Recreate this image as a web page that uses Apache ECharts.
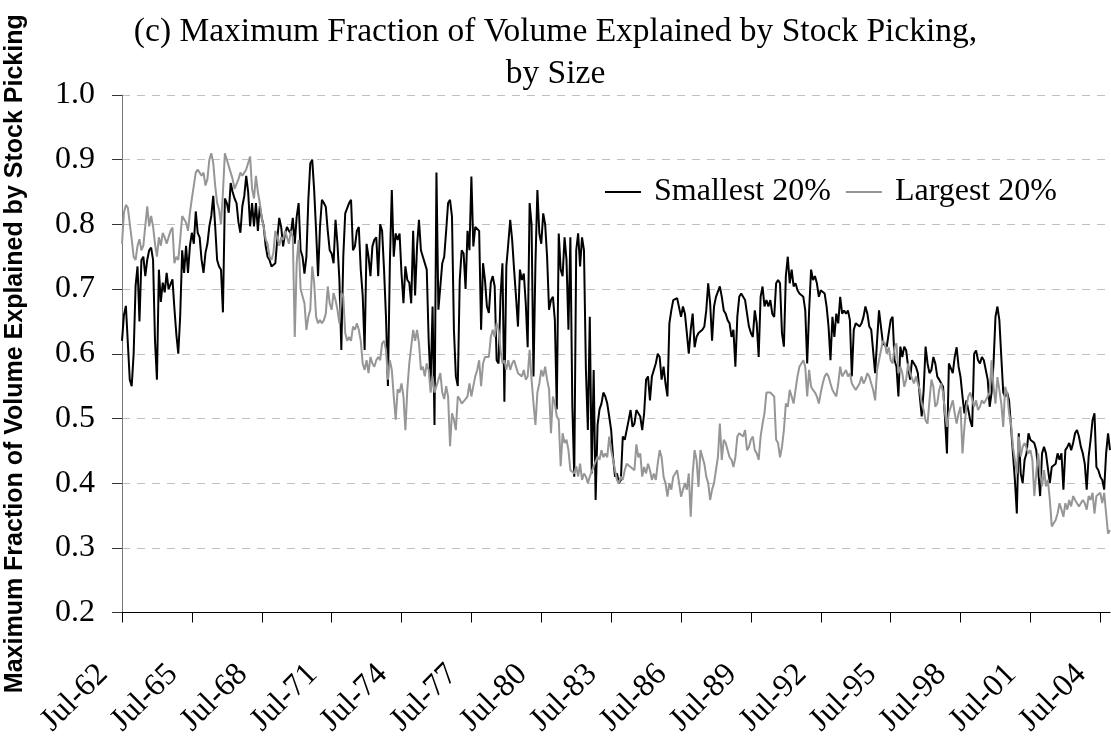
<!DOCTYPE html>
<html>
<head>
<meta charset="UTF-8">
<title>Stock Picking by Size</title>
<style>
html, body { margin: 0; padding: 0; background: #fff; }
#main { width: 1111px; height: 740px; }
</style>
</head>
<body>
<div id="main"></div>
<script src="https://cdn.jsdelivr.net/npm/echarts@6/dist/echarts.min.js"></script>
<script>
// months run from Jul-62, one value per month
var monthNames = ['Jan', 'Feb', 'Mar', 'Apr', 'May', 'Jun', 'Jul', 'Aug', 'Sep', 'Oct', 'Nov', 'Dec'];
var startYear = 1962;
var startMonth = 6;
var seriesNames = ['Smallest 20%', 'Largest 20%'];

var smallest = [
  0.62, 0.66, 0.674, 0.674, 0.56, 0.55, 0.60, 0.705, 0.735, 0.65,
  0.745, 0.75, 0.72, 0.745, 0.76, 0.764, 0.745, 0.62, 0.56, 0.73,
  0.68, 0.71, 0.695, 0.725, 0.70, 0.70, 0.715, 0.67, 0.63, 0.60,
  0.66, 0.76, 0.725, 0.767, 0.725, 0.767, 0.787, 0.77, 0.82, 0.787,
  0.78, 0.745, 0.725, 0.756, 0.77, 0.797, 0.813, 0.844, 0.797, 0.745,
  0.735, 0.73, 0.664, 0.84, 0.833, 0.818, 0.864, 0.85, 0.84, 0.833,
  0.803, 0.787, 0.828, 0.844, 0.875, 0.85, 0.797, 0.833, 0.797, 0.833,
  0.79, 0.828, 0.81, 0.797, 0.767, 0.75, 0.745, 0.735, 0.733, 0.74,
  0.777, 0.81, 0.796, 0.766, 0.786, 0.796, 0.79, 0.786, 0.81, 0.77,
  0.812, 0.833, 0.76, 0.75, 0.724, 0.75, 0.838, 0.894, 0.9, 0.853,
  0.79, 0.72, 0.796, 0.838, 0.833, 0.827, 0.79, 0.76, 0.755, 0.74,
  0.807, 0.77, 0.714, 0.606, 0.75, 0.817, 0.817, 0.833, 0.838, 0.76,
  0.766, 0.79, 0.796, 0.73, 0.69, 0.606, 0.77, 0.75, 0.72, 0.766,
  0.776, 0.78, 0.72, 0.80, 0.79, 0.73, 0.657, 0.55, 0.74, 0.853,
  0.75, 0.786, 0.776, 0.786, 0.724, 0.678, 0.735, 0.714, 0.71, 0.678,
  0.79, 0.69, 0.766, 0.807, 0.76, 0.75, 0.75, 0.73, 0.62, 0.554,
  0.673, 0.49, 0.88, 0.668, 0.668, 0.74, 0.75, 0.79, 0.833, 0.838,
  0.812, 0.637, 0.565, 0.55, 0.714, 0.76, 0.755, 0.70, 0.79, 0.76,
  0.874, 0.766, 0.796, 0.796, 0.79, 0.637, 0.74, 0.714, 0.673, 0.663,
  0.71, 0.72, 0.704, 0.59, 0.585, 0.688, 0.74, 0.526, 0.735, 0.77,
  0.807, 0.776, 0.73, 0.688, 0.642, 0.73, 0.714, 0.724, 0.678, 0.61,
  0.833, 0.80, 0.565, 0.74, 0.853, 0.786, 0.77, 0.817, 0.80, 0.75,
  0.668, 0.683, 0.688, 0.652, 0.514, 0.786, 0.73, 0.72, 0.78, 0.745,
  0.637, 0.78, 0.52, 0.41, 0.76, 0.786, 0.735, 0.78, 0.76, 0.575,
  0.482, 0.657, 0.415, 0.575, 0.374, 0.49, 0.514, 0.523, 0.54, 0.534,
  0.523, 0.503, 0.482, 0.44, 0.41, 0.415, 0.40, 0.405, 0.472, 0.467,
  0.482, 0.497, 0.513, 0.487, 0.492, 0.513, 0.508, 0.503, 0.482, 0.508,
  0.56, 0.565, 0.528, 0.565, 0.575, 0.585, 0.60, 0.595, 0.56, 0.58,
  0.554, 0.534, 0.647, 0.667, 0.683, 0.683, 0.686, 0.683, 0.657, 0.673,
  0.662, 0.632, 0.60, 0.637, 0.662, 0.61, 0.626, 0.632, 0.632, 0.637,
  0.642, 0.667, 0.709, 0.678, 0.62, 0.673, 0.688, 0.688, 0.704, 0.688,
  0.667, 0.662, 0.652, 0.647, 0.626, 0.637, 0.58, 0.657, 0.688, 0.693,
  0.693, 0.683, 0.662, 0.642, 0.632, 0.626, 0.667, 0.647, 0.595, 0.688,
  0.704, 0.673, 0.683, 0.673, 0.683, 0.662, 0.657, 0.709, 0.714, 0.709,
  0.632, 0.611, 0.72, 0.75, 0.709, 0.73, 0.704, 0.709, 0.698, 0.693,
  0.693, 0.688, 0.667, 0.585, 0.667, 0.73, 0.714, 0.72, 0.709, 0.688,
  0.698, 0.698, 0.693, 0.673, 0.642, 0.59, 0.657, 0.626, 0.662, 0.647,
  0.688, 0.662, 0.667, 0.662, 0.667, 0.652, 0.565, 0.637, 0.647, 0.647,
  0.642, 0.647, 0.657, 0.673, 0.662, 0.642, 0.637, 0.637, 0.57, 0.62,
  0.667, 0.642, 0.616, 0.616, 0.611, 0.632, 0.652, 0.657, 0.59, 0.58,
  0.534, 0.611, 0.595, 0.611, 0.605, 0.58, 0.56, 0.59, 0.585, 0.58,
  0.57, 0.534, 0.503, 0.544, 0.611, 0.585, 0.57, 0.575, 0.595, 0.585,
  0.565, 0.56, 0.56, 0.549, 0.50, 0.446, 0.585, 0.585, 0.57, 0.595,
  0.61, 0.58, 0.564, 0.534, 0.508, 0.528, 0.513, 0.497, 0.487, 0.60,
  0.605, 0.59, 0.585, 0.595, 0.59, 0.59, 0.56, 0.518, 0.54, 0.585,
  0.657, 0.673, 0.652, 0.595, 0.54, 0.534, 0.54, 0.528, 0.487, 0.446,
  0.405, 0.353, 0.477, 0.415, 0.40, 0.436, 0.446, 0.477, 0.467, 0.467,
  0.462, 0.451, 0.42, 0.38, 0.446, 0.456, 0.446, 0.446, 0.40, 0.425,
  0.425, 0.43, 0.446, 0.436, 0.446, 0.39, 0.451, 0.456, 0.462, 0.451,
  0.462, 0.477, 0.482, 0.472, 0.456, 0.446, 0.43, 0.39, 0.441, 0.467,
  0.497, 0.508, 0.425, 0.42, 0.41, 0.405, 0.39, 0.446, 0.477, 0.451
];

var largest = [
  0.77, 0.818, 0.83, 0.826, 0.823, 0.777, 0.75, 0.745, 0.767, 0.777,
  0.76, 0.767, 0.77, 0.828, 0.797, 0.813, 0.797, 0.77, 0.75, 0.78,
  0.767, 0.787, 0.78, 0.77, 0.767, 0.79, 0.795, 0.74, 0.75, 0.745,
  0.777, 0.813, 0.81, 0.803, 0.79, 0.818, 0.84, 0.86, 0.88, 0.885,
  0.88, 0.875, 0.88, 0.86, 0.87, 0.90, 0.91, 0.895, 0.86, 0.833,
  0.823, 0.80, 0.85, 0.91, 0.90, 0.89, 0.88, 0.87, 0.855, 0.855,
  0.87, 0.88, 0.875, 0.88, 0.885, 0.895, 0.905, 0.855, 0.84, 0.875,
  0.85, 0.833, 0.81, 0.797, 0.777, 0.77, 0.75, 0.745, 0.756, 0.79,
  0.78, 0.767, 0.78, 0.776, 0.79, 0.78, 0.77, 0.79, 0.78, 0.626,
  0.74, 0.776, 0.70, 0.70, 0.678, 0.637, 0.657, 0.668, 0.735, 0.71,
  0.657, 0.647, 0.652, 0.647, 0.652, 0.662, 0.704, 0.678, 0.668, 0.694,
  0.683, 0.668, 0.647, 0.694, 0.688, 0.632, 0.62, 0.626, 0.62, 0.642,
  0.637, 0.647, 0.637, 0.62, 0.585, 0.575, 0.59, 0.57, 0.595, 0.585,
  0.58, 0.59, 0.595, 0.59, 0.616, 0.62, 0.606, 0.56, 0.59, 0.575,
  0.534, 0.498, 0.545, 0.54, 0.554, 0.534, 0.482, 0.545, 0.585, 0.611,
  0.637, 0.62, 0.637, 0.616, 0.575, 0.58, 0.565, 0.585, 0.575, 0.54,
  0.565, 0.54, 0.55, 0.55, 0.57, 0.54, 0.53, 0.55, 0.534, 0.457,
  0.508, 0.498, 0.482, 0.534, 0.53, 0.523, 0.52, 0.53, 0.534, 0.554,
  0.534, 0.55, 0.565, 0.575, 0.59, 0.55, 0.585, 0.595, 0.595, 0.595,
  0.626, 0.637, 0.626, 0.647, 0.637, 0.606, 0.585, 0.59, 0.575, 0.59,
  0.575, 0.585, 0.59, 0.58, 0.57, 0.57, 0.565, 0.575, 0.56, 0.565,
  0.606, 0.56, 0.523, 0.49, 0.54, 0.554, 0.575, 0.565, 0.58, 0.56,
  0.545, 0.477, 0.534, 0.523, 0.503, 0.498, 0.426, 0.477, 0.462, 0.467,
  0.451, 0.42, 0.42, 0.415, 0.426, 0.41, 0.43, 0.405, 0.415, 0.41,
  0.40, 0.41, 0.41, 0.426, 0.426, 0.441, 0.436, 0.451, 0.44, 0.446,
  0.44, 0.472, 0.451, 0.436, 0.42, 0.405, 0.40, 0.41, 0.405, 0.42,
  0.43, 0.43, 0.425, 0.425, 0.42, 0.46, 0.44, 0.446, 0.41, 0.425,
  0.415, 0.43, 0.42, 0.405, 0.415, 0.405, 0.43, 0.451, 0.44, 0.41,
  0.40, 0.379, 0.40, 0.39, 0.41, 0.415, 0.42, 0.40, 0.379, 0.379,
  0.40, 0.39, 0.415, 0.348, 0.415, 0.451, 0.436, 0.394, 0.451, 0.451,
  0.43, 0.41, 0.40, 0.374, 0.39, 0.40, 0.42, 0.44, 0.492, 0.436,
  0.467, 0.462, 0.451, 0.44, 0.436, 0.425, 0.44, 0.472, 0.477, 0.477,
  0.472, 0.482, 0.451, 0.456, 0.467, 0.472, 0.451, 0.446, 0.436, 0.472,
  0.492, 0.508, 0.54, 0.54, 0.54, 0.54, 0.534, 0.467, 0.462, 0.44,
  0.456, 0.482, 0.523, 0.518, 0.544, 0.534, 0.523, 0.544, 0.565, 0.58,
  0.585, 0.59, 0.58, 0.534, 0.575, 0.549, 0.544, 0.54, 0.534, 0.523,
  0.54, 0.554, 0.565, 0.57, 0.565, 0.554, 0.544, 0.544, 0.534, 0.554,
  0.58, 0.565, 0.57, 0.575, 0.565, 0.57, 0.554, 0.549, 0.544, 0.549,
  0.554, 0.565, 0.554, 0.56, 0.57, 0.565, 0.554, 0.544, 0.528, 0.575,
  0.59, 0.605, 0.62, 0.616, 0.60, 0.61, 0.59, 0.585, 0.61, 0.616,
  0.57, 0.58, 0.57, 0.549, 0.56, 0.585, 0.57, 0.57, 0.554, 0.565,
  0.554, 0.544, 0.523, 0.513, 0.497, 0.492, 0.528, 0.56, 0.549, 0.518,
  0.523, 0.544, 0.554, 0.54, 0.508, 0.487, 0.508, 0.518, 0.528, 0.508,
  0.492, 0.508, 0.518, 0.446, 0.487, 0.518, 0.534, 0.54, 0.54, 0.518,
  0.528, 0.513, 0.518, 0.528, 0.523, 0.528, 0.528, 0.54, 0.59, 0.549,
  0.523, 0.564, 0.544, 0.523, 0.487, 0.549, 0.539, 0.508, 0.492, 0.456,
  0.436, 0.415, 0.472, 0.441, 0.456, 0.462, 0.462, 0.446, 0.451, 0.436,
  0.38, 0.415, 0.446, 0.415, 0.395, 0.42, 0.395, 0.405, 0.374, 0.333,
  0.338, 0.343, 0.353, 0.369, 0.359, 0.348, 0.369, 0.359, 0.374, 0.364,
  0.38, 0.374, 0.369, 0.364, 0.369, 0.374, 0.369, 0.359, 0.38, 0.374,
  0.385, 0.353, 0.38, 0.38, 0.385, 0.369, 0.385, 0.353, 0.322, 0.327
];

// category labels like "Jul-62"
var months = [];
for (var i = 0; i < smallest.length; i++) {
  var k = startMonth + i;
  var yr = (startYear + Math.floor(k / 12)) % 100;
  months.push(monthNames[k % 12] + '-' + (yr < 10 ? '0' + yr : '' + yr));
}

var serif = '"Liberation Serif", "Times New Roman", serif';

var myChart = echarts.init(document.getElementById('main'));
var option = {
  animation: false,
  backgroundColor: '#fff',
  title: {
    text: '(c) Maximum Fraction of Volume Explained by Stock Picking,\nby Size',
    left: 'center',
    top: 6,
    textStyle: {
      fontFamily: serif,
      fontSize: 33.5,
      fontWeight: 'normal',
      color: '#000',
      lineHeight: 42
    }
  },
  legend: {
    data: seriesNames,
    left: 605,
    top: 176,
    padding: 0,
    icon: 'rect',
    itemWidth: 36,
    itemHeight: 2,
    itemGap: 15,
    textStyle: { fontFamily: serif, fontSize: 32, color: '#000', padding: [0, 0, 0, 8] }
  },
  grid: { left: 122, right: 1, top: 95, bottom: 127.5, outerBoundsMode: 'none' },
  xAxis: {
    type: 'category',
    data: months,
    boundaryGap: false,
    axisLine: { lineStyle: { color: '#000', width: 1 } },
    axisTick: { interval: 35, length: 10, lineStyle: { color: '#000' } },
    axisLabel: {
      interval: 35,
      rotate: 45,
      margin: 38,
      padding: [0, 27, 0, 0],
      fontFamily: serif,
      fontSize: 32,
      color: '#000'
    },
    splitLine: { show: false }
  },
  yAxis: {
    type: 'value',
    min: 0.2,
    max: 1.0,
    interval: 0.1,
    name: 'Maximum Fraction of Volume Explained by Stock Picking',
    nameLocation: 'middle',
    nameRotate: 90,
    nameGap: 94,
    nameTextStyle: {
      fontFamily: '"Liberation Sans", Arial, sans-serif',
      fontWeight: 'bold',
      fontSize: 25,
      color: '#000'
    },
    axisLine: { show: true, lineStyle: { color: '#777', width: 1 } },
    axisTick: { show: true, length: 10, lineStyle: { color: '#333' } },
    axisLabel: {
      margin: 27,
      fontFamily: serif,
      fontSize: 32,
      color: '#000',
      formatter: function (v) { return v.toFixed(1); }
    },
    splitLine: { lineStyle: { color: '#c0c0c0', type: [8, 7], width: 1 } }
  },
  series: [
    {
      name: seriesNames[0],
      type: 'line',
      data: smallest,
      symbol: 'none',
      color: '#000',
      lineStyle: { color: '#000', width: 2 }
    },
    {
      name: seriesNames[1],
      type: 'line',
      data: largest,
      symbol: 'none',
      color: '#969696',
      lineStyle: { color: '#969696', width: 2 }
    }
  ]
};
myChart.setOption(option);
</script>
</body>
</html>
